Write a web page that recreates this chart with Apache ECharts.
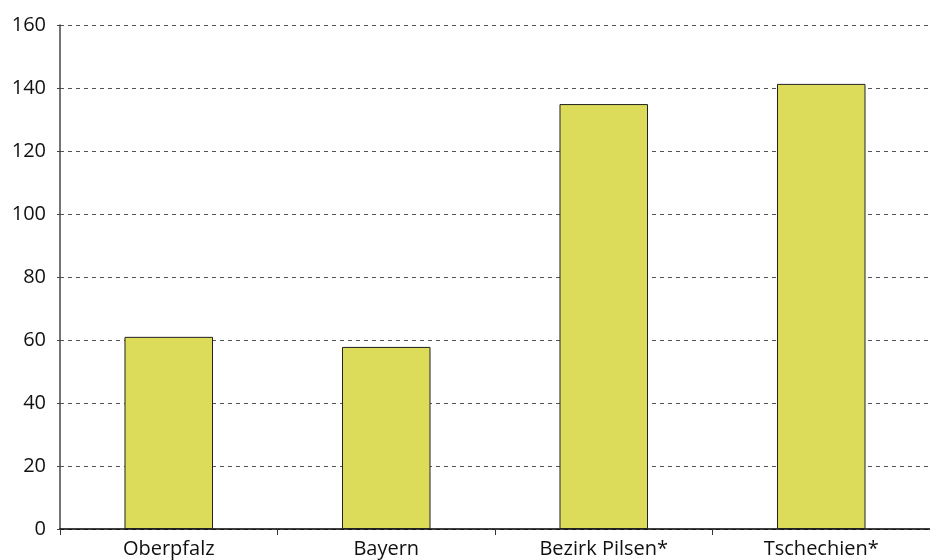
<!DOCTYPE html>
<html>
<head>
<meta charset="utf-8">
<title>Chart</title>
<script src="https://cdn.jsdelivr.net/npm/echarts@6/dist/echarts.min.js"></script>
<style>
  html, body { margin: 0; padding: 0; background: #fff; }
  #main { width: 930px; height: 560px; }
</style>
</head>
<body>
<div id="main"></div>
<script>
// data
var categories = ['Oberpfalz', 'Bayern', 'Bezirk Pilsen*', 'Tschechien*'];
var values = [61, 57.8, 134.9, 141.3];
var yTicks = [0, 20, 40, 60, 80, 100, 120, 140, 160];

var chart = echarts.init(document.getElementById('main'));

chart.setOption({
    animation: false,
    grid: { left: 60, right: -4, top: 25, bottom: 31 },
    xAxis: {
        type: 'category',
        data: categories,
        axisLine: { lineStyle: { color: '#000', width: 1.5 } },
        axisTick: { show: true, length: 6, lineStyle: { color: '#333' } },
        axisLabel: { color: '#111', fontSize: 20, fontFamily: 'Open Sans', margin: 10 }
    },
    yAxis: {
        type: 'value',
        min: yTicks[0],
        max: yTicks[yTicks.length - 1],
        interval: 20,
        axisLine: { show: true, lineStyle: { color: '#444', width: 1.5 } },
        axisTick: { show: true, length: 3, lineStyle: { color: '#444' } },
        axisLabel: { color: '#111', fontSize: 20, fontFamily: 'Open Sans', margin: 14, padding: [4, 0, 0, 0] },
        splitLine: { lineStyle: { color: '#555', type: [4, 4], width: 1 } }
    },
    series: [{
        type: 'bar',
        data: values,
        barWidth: '40.7%',
        itemStyle: { color: '#dcdb5a', borderColor: '#222', borderWidth: 1 }
    }]
});
</script>
</body>
</html>
